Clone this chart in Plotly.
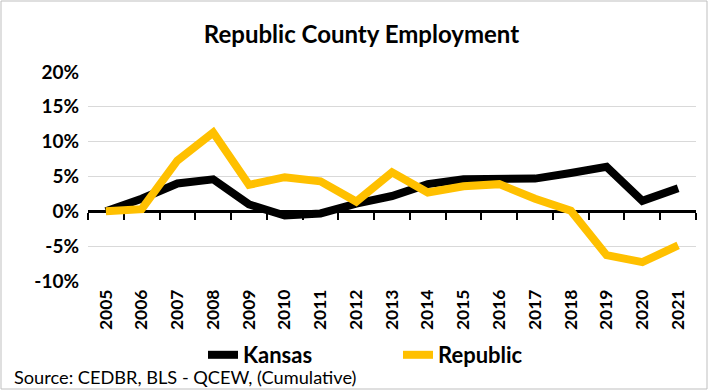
import plotly.graph_objects as go

years = [str(y) for y in range(2005, 2022)]
kansas = [0.0, 1.8, 4.0, 4.6, 1.0, -0.6, -0.3, 1.1, 2.2, 3.9, 4.6, 4.7, 4.7, 5.5, 6.4, 1.5, 3.3]
republic = [0.0, 0.3, 7.3, 11.3, 3.8, 4.9, 4.3, 1.4, 5.6, 2.7, 3.6, 3.9, 1.8, 0.1, -6.3, -7.3, -4.9]
y_ticks = [-10, -5, 0, 5, 10, 15, 20]

FONT = "Lato"
W, H = 709, 391
L, R, T, B = 88, 13, 72, 110
PW, PH = W - L - R, H - T - B

def px_x(p):
    return (p - L) / PW

def px_y(p):
    return (H - B - p) / PH

fig = go.Figure()
# dummy trace to carry category labels on the bottom axis
fig.add_trace(go.Scatter(x=years, y=[None] * len(years), xaxis="x", yaxis="y",
                         showlegend=False, hoverinfo="skip"))
fig.add_trace(go.Scatter(x=years, y=kansas, name="<b>Kansas</b>", mode="lines",
                         line=dict(color="#000000", width=8), xaxis="x2", yaxis="y"))
fig.add_trace(go.Scatter(x=years, y=republic, name="<b>Republic</b>", mode="lines",
                         line=dict(color="#FFC000", width=8), xaxis="x2", yaxis="y"))

fig.update_layout(
    width=W, height=H,
    margin=dict(l=L, r=R, t=T, b=B),
    paper_bgcolor="white", plot_bgcolor="white",
    font=dict(family=FONT, color="#000000"),
    title=dict(text="<b>Republic County Employment</b>", xref="container", x=361.5 / W,
               xanchor="center", yref="container", y=1 - 35 / H, yanchor="middle",
               font=dict(size=24, family=FONT, color="#000000")),
    xaxis=dict(type="category", range=[-0.5, 16.5], showgrid=False, showline=False,
               ticks="", tickangle=-90, tickfont=dict(size=17.5, family=FONT, color="#000000"),
               ticklabelstandoff=4, zeroline=False, tickprefix="<b>", ticksuffix="</b>"),
    xaxis2=dict(type="category", range=[-0.5, 16.5], overlaying="x", anchor="free",
                position=1 / 3, showgrid=False, showline=True, linecolor="#000000",
                linewidth=3, ticks="outside", tickson="boundaries", ticklen=7,
                tickwidth=2, tickcolor="#000000", showticklabels=False,
                layer="below traces", zeroline=False),
    yaxis=dict(range=[-10, 20], tickvals=y_ticks, ticktext=[f"<b>{v}%</b>" for v in y_ticks],
               showgrid=True, gridcolor="#d9d9d9", gridwidth=1, zeroline=False,
               showline=False, ticks="", tickfont=dict(size=19, family=FONT, color="#000000"),
               ticklabelstandoff=8),
    legend=dict(orientation="h", x=px_x(203), xanchor="left", y=px_y(355), yanchor="middle",
                font=dict(size=22, family=FONT, color="#000000"),
                entrywidth=150, entrywidthmode="pixels", bgcolor="rgba(0,0,0,0)"),
    showlegend=True,
    shapes=[dict(type="rect", xref="paper", yref="paper",
                 x0=px_x(1), x1=px_x(707), y0=px_y(389), y1=px_y(1),
                 line=dict(color="#bfbfbf", width=1), fillcolor="rgba(0,0,0,0)", layer="below")],
    annotations=[dict(text="Source: CEDBR, BLS - QCEW, (Cumulative)", xref="paper", yref="paper",
                      x=px_x(12), y=px_y(377), xanchor="left", yanchor="middle", showarrow=False,
                      font=dict(size=18.2, family=FONT, color="#000000"))],
)

fig.write_html("out.html", config={"displayModeBar": False},
               post_script="document.body.style.margin='0';")
